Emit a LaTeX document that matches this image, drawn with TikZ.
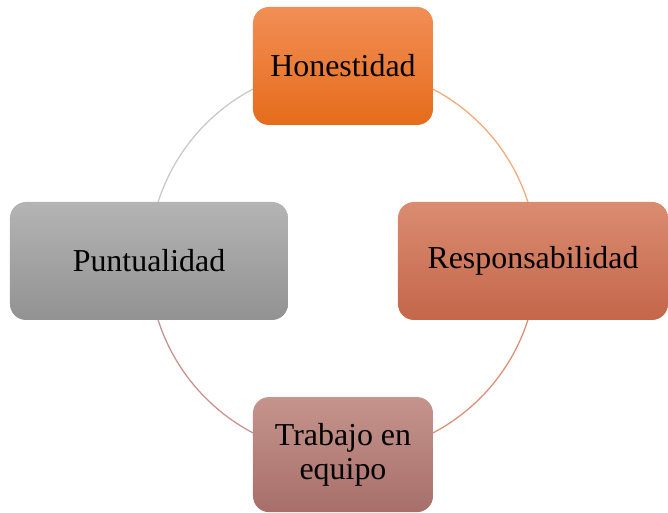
\documentclass[tikz,border=0pt]{standalone}
\usepackage{fontspec}
\setmainfont{Liberation Serif}
\usepackage{xcolor}
\usepackage{tikz}
\usetikzlibrary{calc}

\definecolor{honTop}{HTML}{F28E55}
\definecolor{honBot}{HTML}{E56C1B}
\definecolor{resTop}{HTML}{DA8C71}
\definecolor{resBot}{HTML}{C4664A}
\definecolor{traTop}{HTML}{C5948D}
\definecolor{traBot}{HTML}{A86F6A}
\definecolor{punTop}{HTML}{B4B4B4}
\definecolor{punBot}{HTML}{929292}

\begin{document}
\begin{tikzpicture}[
	valor/.style={rounded corners=0.4cm,minimum height=2.95cm,inner sep=0pt,
		align=center,font=\fontsize{22.7}{24}\selectfont},
	corto/.style={valor,minimum width=4.5cm},
	largo/.style={valor,minimum width=6.95cm},
	ciclo/.style={line width=0.9pt}]
	\useasboundingbox (-8.575,-6.3) rectangle (8.125,6.525);
	\coordinate (centro) at (0,0);
	% circle behind the boxes
	\draw[ciclo,color={rgb,255:red,200;green,200;blue,200}] (centro) ++(180:4.85) arc[start angle=180,end angle=90,radius=4.85];
	\draw[ciclo,color={rgb,255:red,245;green,168;blue,120}] (centro) ++(90:4.85) arc[start angle=90,end angle=0,radius=4.85];
	\draw[ciclo,color={rgb,255:red,218;green,143;blue,114}] (centro) ++(0:4.85) arc[start angle=0,end angle=-90,radius=4.85];
	\draw[ciclo,color={rgb,255:red,201;green,145;blue,141}] (centro) ++(-90:4.85) arc[start angle=-90,end angle=-180,radius=4.85];
	% boxes
	\node[corto,top color=honTop,bottom color=honBot] (hon) at (0,4.875) {Honestidad};
	\node[largo,minimum width=6.75cm,top color=resTop,bottom color=resBot] (res) at (4.75,0) {Responsabilidad};
	\node[corto,minimum height=2.875cm,top color=traTop,bottom color=traBot] (tra) at (0,-4.84) {Trabajo en\\equipo};
	\node[largo,top color=punTop,bottom color=punBot] (pun) at (-4.85,0) {Puntualidad};
\end{tikzpicture}
\end{document}
